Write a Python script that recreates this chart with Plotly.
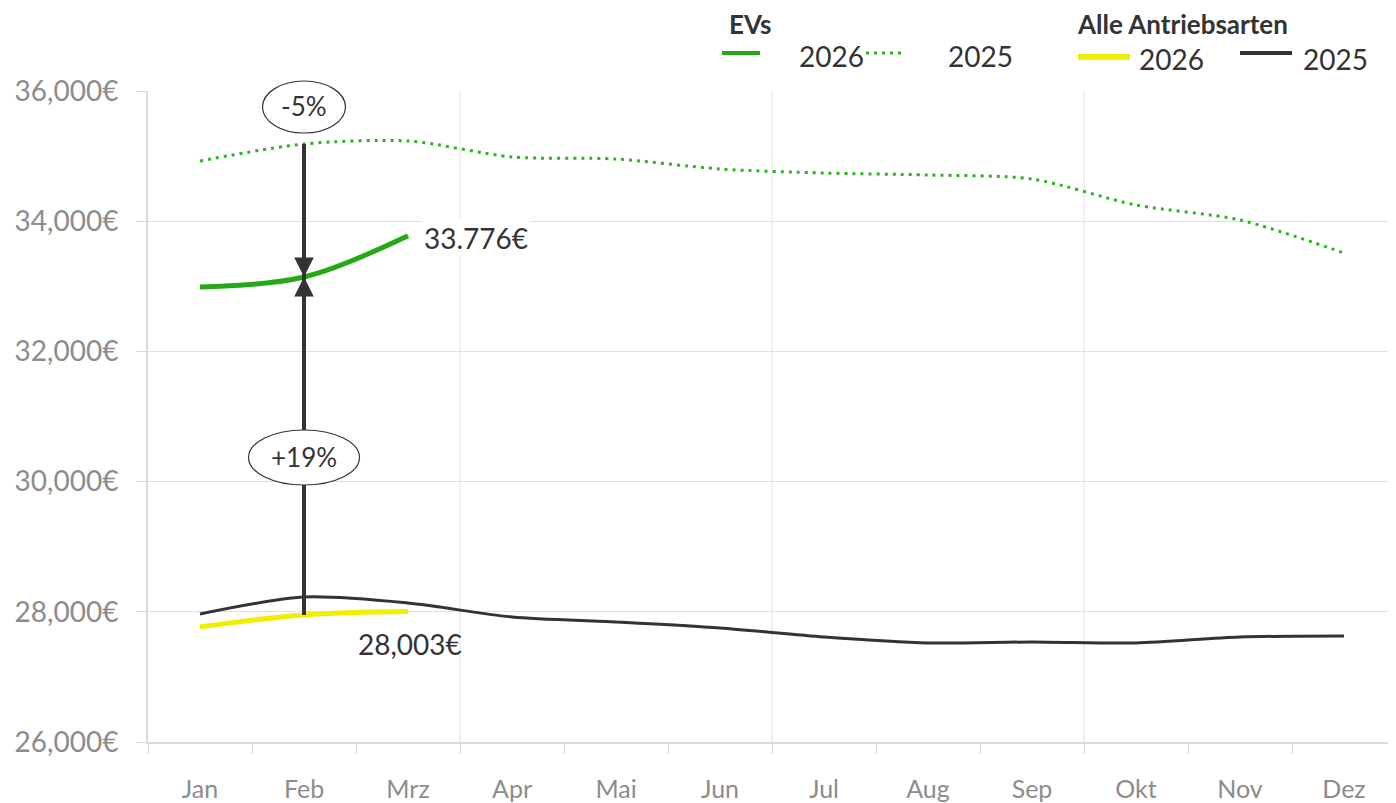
import plotly.graph_objects as go

months = ["Jan", "Feb", "Mrz", "Apr", "Mai", "Jun", "Jul", "Aug", "Sep", "Okt", "Nov", "Dez"]
ev_2025 = [34925, 35186, 35232, 34987, 34955, 34802, 34740, 34710, 34648, 34249, 34018, 33511]
ev_2026 = [32990, 33143, 33776]
all_2025 = [27966, 28227, 28135, 27920, 27843, 27751, 27613, 27521, 27536, 27521, 27613, 27628]
all_2026 = [27767, 27951, 28003]
y_ticks = [26000, 28000, 30000, 32000, 34000, 36000]
y_ticktext = ["26,000€", "28,000€", "30,000€", "32,000€", "34,000€", "36,000€"]
label_ev = "33.776€"
label_all = "28,003€"
pct_ev = "-5%"
pct_all = "+19%"

# page body has an 8px margin: work in screen pixels, subtract the offset
OFF = 8
W, H = 1396 - OFF, 803 - OFF
L, R, T, B = 148 - OFF, 1396 - OFF, 91 - OFF, 742 - OFF
FONT = "Lato, 'Open Sans', sans-serif"
GREEN = "#25a815"
GREEN_DOT = "#2bb41c"
YELLOW = "#f2ee00"
DARK = "#333333"
GRID = "#e0e0e0"
AXIS = "#d9d9d9"
TICKC = "#8c8c8c"
Y0, Y1 = 26000, 36000


def px_x(p):
    return (p - OFF - L) / (R - L)


def px_y(p):
    return (B - (p - OFF)) / (B - T)


def val_to_paper(v):
    return (v - Y0) / (Y1 - Y0)


xi = list(range(len(months)))
fig = go.Figure()
fig.add_trace(go.Scatter(x=xi, y=ev_2025, mode="lines", line=dict(color=GREEN_DOT, width=3, dash="3px,5px", shape="spline", smoothing=0.8), showlegend=False, name="EVs 2025"))
fig.add_trace(go.Scatter(x=xi, y=all_2025, mode="lines", line=dict(color=DARK, width=3, shape="spline", smoothing=0.8), showlegend=False, name="Alle 2025"))
fig.add_trace(go.Scatter(x=xi[:len(all_2026)], y=all_2026, mode="lines", line=dict(color=YELLOW, width=5, shape="spline"), showlegend=False, name="Alle 2026"))
fig.add_trace(go.Scatter(x=xi[:len(ev_2026)], y=ev_2026, mode="lines", line=dict(color=GREEN, width=5, shape="spline"), showlegend=False, name="EVs 2026"))

shapes = []
# vertical gridlines every quarter
for b in [2.5, 5.5, 8.5, 11.5]:
    shapes.append(dict(type="line", xref="x", yref="paper", x0=b, x1=b, y0=0, y1=1, line=dict(color=GRID, width=1), layer="below"))

feb = months.index("Feb")
feb_paper = (feb + 0.5) / len(months)
# arrow shaft
shapes.append(dict(type="line", xref="x", yref="y", x0=feb, x1=feb, y0=ev_2025[feb], y1=all_2026[feb], line=dict(color=DARK, width=4), layer="above"))
# ellipses (paper refs so they are not clipped at the plot top)
ell_pos = [(35754, 83, 52, pct_ev), (30370, 111, 55, pct_all)]
for yc, w, h, _ in ell_pos:
    shapes.append(dict(type="circle", xref="paper", yref="paper", xsizemode="pixel", ysizemode="pixel",
                       xanchor=feb_paper, yanchor=val_to_paper(yc), x0=-w / 2, x1=w / 2, y0=-h / 2, y1=h / 2,
                       fillcolor="white", line=dict(color=DARK, width=1.2), layer="above"))

annotations = []
# arrowheads
annotations.append(dict(x=feb, y=ev_2026[feb], xref="x", yref="y", ax=0, ay=-25,
                        showarrow=True, arrowhead=2, arrowsize=1.3, arrowwidth=3, arrowcolor=DARK, text=""))
annotations.append(dict(x=feb, y=ev_2026[feb], xref="x", yref="y", ax=0, ay=25,
                        showarrow=True, arrowhead=2, arrowsize=1.3, arrowwidth=3, arrowcolor=DARK, text=""))
for yc, w, h, t in ell_pos:
    annotations.append(dict(x=feb, y=yc, xref="x", yref="y", text=t, showarrow=False,
                            font=dict(family=FONT, size=26, color=DARK), yshift=1))

# data labels
mrz = months.index("Mrz")
annotations.append(dict(x=mrz, y=ev_2026[mrz], xref="x", yref="y", text=label_ev, showarrow=False,
                        xanchor="left", yanchor="middle", xshift=14, yshift=-2, bgcolor="white",
                        font=dict(family=FONT, size=28, color=DARK)))
annotations.append(dict(x=mrz, y=all_2026[mrz], xref="x", yref="y", text=label_all, showarrow=False,
                        xanchor="center", yanchor="middle", yshift=-32, xshift=2,
                        font=dict(family=FONT, size=28, color=DARK)))

# manual legend (screen pixel positions)
leg_titles = [("EVs", 727, 24), ("Alle Antriebsarten", 1075, 24)]
for t, x, y in leg_titles:
    annotations.append(dict(x=px_x(x), y=px_y(y), xref="paper", yref="paper", text="<b>" + t + "</b>", showarrow=False,
                            xanchor="left", yanchor="middle", font=dict(family=FONT, size=26, color=DARK)))
leg_items = [
    (722, 760, 53, GREEN, 4, "solid", "2026", 797, 56),
    (866, 906, 53, GREEN_DOT, 3, "3px,5px", "2025", 946, 56),
    (1078, 1130, 57, YELLOW, 6, "solid", "2026", 1137, 59),
    (1240, 1292, 53, DARK, 4, "solid", "2025", 1301, 59),
]
for x0, x1, y, c, wdt, d, t, tx, ty in leg_items:
    shapes.append(dict(type="line", xref="paper", yref="paper", x0=px_x(x0), x1=px_x(x1), y0=px_y(y), y1=px_y(y),
                       line=dict(color=c, width=wdt, dash=d)))
    annotations.append(dict(x=px_x(tx), y=px_y(ty), xref="paper", yref="paper", text=t, showarrow=False,
                            xanchor="left", yanchor="middle", font=dict(family=FONT, size=28, color=DARK)))

fig.update_layout(
    width=W, height=H,
    margin=dict(l=L, r=W - R, t=T, b=H - B, pad=0),
    paper_bgcolor="white", plot_bgcolor="white",
    shapes=shapes, annotations=annotations,
    font=dict(family=FONT),
    xaxis=dict(range=[-0.5, 11.5], tickmode="array", tickvals=xi, ticktext=months, ticks="",
               showgrid=False, zeroline=False, showline=True, linecolor=AXIS, linewidth=2,
               tickfont=dict(family=FONT, size=25, color=TICKC), ticklabelstandoff=24,
               minor=dict(tick0=-0.5, dtick=1, ticks="outside", ticklen=10, tickcolor=AXIS, tickwidth=1, showgrid=False),
               fixedrange=True),
    yaxis=dict(range=[Y0, Y1], tickmode="array", tickvals=y_ticks, ticktext=y_ticktext,
               showgrid=True, gridcolor=GRID, gridwidth=1, zeroline=False,
               showline=True, linecolor=AXIS, linewidth=2, ticks="outside", ticklen=10, tickcolor=AXIS,
               tickfont=dict(family=FONT, size=28, color=TICKC), ticklabelstandoff=12, fixedrange=True),
    showlegend=False,
)
fig.write_html("out.html")
